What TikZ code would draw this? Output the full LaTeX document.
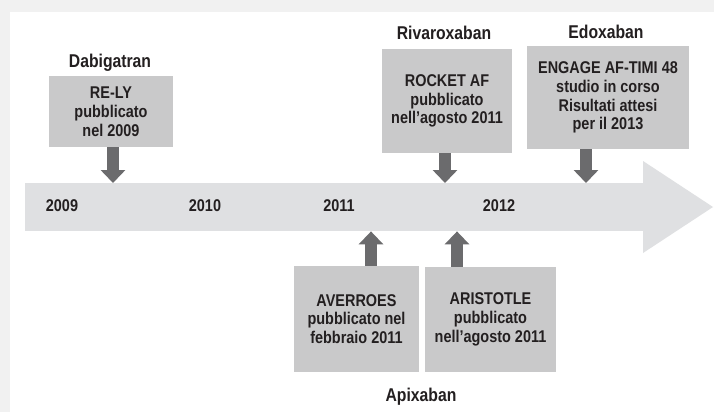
\documentclass[tikz,border=0pt]{standalone}
\usepackage{fontspec}
\setmainfont{Liberation Sans}[FakeStretch=0.85]
\usetikzlibrary{arrows.meta}
\definecolor{txt}{HTML}{231F20}
\definecolor{boxc}{HTML}{C9C9CA}
\definecolor{bandc}{HTML}{DFE0E2}
\definecolor{arrc}{HTML}{6B6B6D}
\definecolor{bgc}{HTML}{F1F1F1}
\tikzset{
  infobox/.style={fill=boxc, inner sep=0pt, align=center, text=txt,
    font=\bfseries\fontsize{17}{18.8}\selectfont},
  drug/.style={text=txt, inner sep=0pt, font=\bfseries\fontsize{18.5}{21}\selectfont},
  year/.style={text=txt, inner sep=0pt, font=\bfseries\fontsize{17}{19}\selectfont},
  blockarrow/.style={draw=arrc, line width=12pt, line cap=butt,
    -{Triangle[width=24pt,length=13pt]}},
}
\begin{document}
\begin{tikzpicture}[x=1pt,y=-1pt]
\useasboundingbox (0,0) rectangle (714,412);
\fill[bgc] (0,0) rectangle (714,412);
\fill[white] (10,12) rectangle (714,412);

% timeline band
\node[fill=bandc, inner sep=0pt, minimum width=618pt, minimum height=48pt, anchor=north west] (band) at (25,183) {};
\fill[bandc] (643,161) -- (713,207) -- (643,253) -- cycle;

% years
\node[year] (y2009) at (62,206) {2009};
\node[year] (y2010) at (205,206) {2010};
\node[year] (y2011) at (339,206) {2011};
\node[year] (y2012) at (499,206) {2012};

% top boxes
\node[drug] (dabi) at (110,63) {Dabigatran};
\node[infobox, minimum width=124pt, minimum height=71pt] (rely) at (111,111.5) {RE-LY\\pubblicato\\nel 2009};

\node[drug] (riva) at (444,33) {Rivaroxaban};
\node[infobox, minimum width=130pt, minimum height=104pt] (rocket) at (447,101) {ROCKET AF\\pubblicato\\nell’agosto 2011};

\node[drug] (edox) at (606,32) {Edoxaban};
\node[infobox, minimum width=162pt, minimum height=103pt] (engage) at (608,97.5) {ENGAGE AF-TIMI 48\\studio in corso\\Risultati attesi\\per il 2013};

% bottom boxes
\node[infobox, minimum width=125pt, minimum height=106pt] (averroes) at (356.5,319) {AVERROES\\pubblicato nel\\febbraio 2011};
\node[infobox, minimum width=131pt, minimum height=105pt] (aristotle) at (490.5,319.5) {ARISTOTLE\\pubblicato\\nell’agosto 2011};
\node[drug] (apix) at (421,397) {Apixaban};

% connectors
\draw[blockarrow] ([xshift=2pt]rely.south) -- ([xshift=2pt]rely.south |- band.north);
\draw[blockarrow] ([xshift=-2pt]rocket.south) -- ([xshift=-2pt]rocket.south |- band.north);
\draw[blockarrow] ([xshift=-22pt]engage.south) -- ([xshift=-22pt]engage.south |- band.north);
\draw[blockarrow] ([xshift=14.5pt]averroes.north) -- ([xshift=14.5pt]averroes.north |- band.south);
\draw[blockarrow] ([xshift=-33.5pt]aristotle.north) -- ([xshift=-33.5pt]aristotle.north |- band.south);
\end{tikzpicture}
\end{document}
